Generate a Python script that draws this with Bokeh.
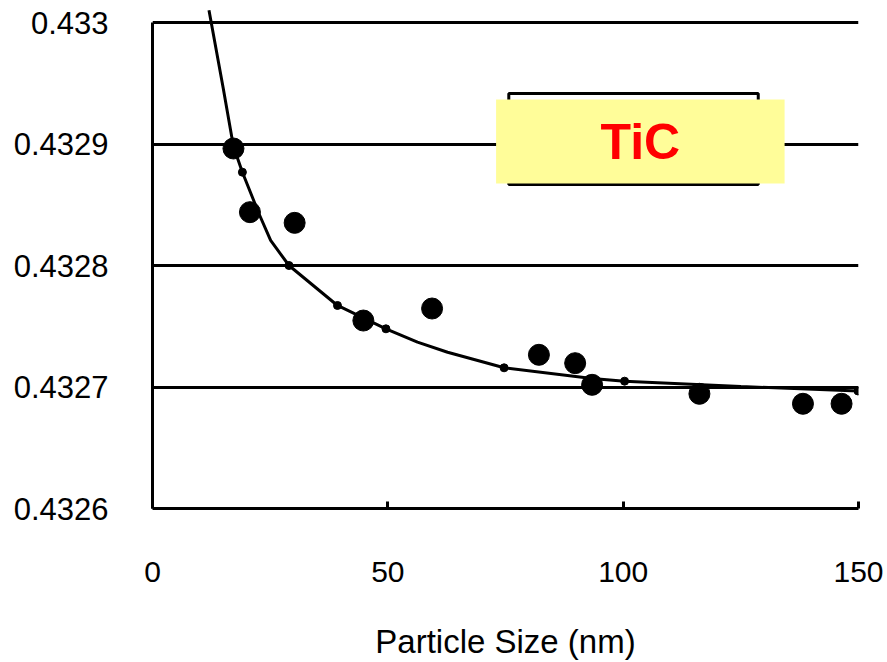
from bokeh.plotting import figure
from bokeh.models import FixedTicker, BoxAnnotation, Label, Range1d
from bokeh.embed import file_html
from bokeh.resources import INLINE

# ---- data ----
size_nm = [17.2, 20.7, 30.2, 44.8, 59.4, 82.1, 89.8, 93.4, 116.2, 138.2, 146.4]
lattice = [0.4328963, 0.4328439, 0.4328351, 0.4327547, 0.4327646, 0.4327265,
           0.4327196, 0.4327018, 0.4326944, 0.4326862, 0.4326862]

fit_x = [12.0, 15.0, 17.2, 19.1, 22.6, 25.1, 29.0, 39.3, 49.6, 56.3, 62.7,
         69.1, 74.7, 93.4, 100.3, 125.0, 149.9]
fit_y = [0.4330100, 0.4329465, 0.4328979, 0.4328768, 0.4328428, 0.4328206,
         0.4328000, 0.4327671, 0.4327479, 0.4327369, 0.4327286, 0.4327218,
         0.4327158, 0.4327070, 0.4327048, 0.4327004, 0.4326967]

node_x = [19.1, 29.0, 39.3, 49.6, 74.7, 100.3, 149.9]
node_y = [0.4328768, 0.4328000, 0.4327671, 0.4327479, 0.4327158, 0.4327048, 0.4326967]

x_ticks = [0, 50, 100, 150]
y_ticks = [0.4326, 0.4327, 0.4328, 0.4329, 0.433]
y_tick_labels = ["0.4326", "0.4327", "0.4328", "0.4329", "0.433"]
x_label = "Particle Size (nm)"
material = "TiC"

FONT = "Liberation Sans"

p = figure(width=887, height=662, output_backend="svg", toolbar_location=None,
           x_range=Range1d(0, 150), y_range=Range1d(0.4326, 0.43301811),
           min_border_left=152, min_border_right=29, min_border_top=0,
           min_border_bottom=154)
p.outline_line_color = None
p.background_fill_color = "white"
p.border_fill_color = "white"

p.xgrid.visible = False
p.ygrid.ticker = FixedTicker(ticks=y_ticks)
p.ygrid.grid_line_color = "black"
p.ygrid.grid_line_width = 3

ya = p.yaxis[0]
ya.ticker = FixedTicker(ticks=y_ticks)
ya.major_label_overrides = dict(zip(y_ticks, y_tick_labels))
ya.bounds = (0.4326, 0.433)
ya.axis_line_width = 3
ya.axis_line_color = "black"
ya.major_tick_in = 0
ya.major_tick_out = 0
ya.minor_tick_in = 0
ya.minor_tick_out = 0
ya.major_label_text_font = FONT
ya.major_label_text_font_size = "31px"
ya.major_label_text_color = "black"
ya.major_label_standoff = 44

xa = p.xaxis[0]
xa.ticker = FixedTicker(ticks=x_ticks)
xa.bounds = (0, 150)
xa.axis_line_width = 3
xa.axis_line_color = "black"
xa.major_tick_in = 7
xa.major_tick_out = 0
xa.major_tick_line_width = 3
xa.major_tick_line_color = "black"
xa.minor_tick_in = 0
xa.minor_tick_out = 0
xa.major_label_text_font = FONT
xa.major_label_text_font_size = "30px"
xa.major_label_text_color = "black"
xa.major_label_standoff = 53
xa.axis_label = x_label
xa.axis_label_text_font = FONT
xa.axis_label_text_font_size = "33px"
xa.axis_label_text_font_style = "normal"
xa.axis_label_text_color = "black"
xa.axis_label_standoff = 38

p.line(fit_x, fit_y, line_color="black", line_width=3)
p.scatter(node_x, node_y, size=8, color="black")
p.scatter(size_nm, lattice, size=21, color="black")

frame_box = BoxAnnotation(left=75.7, right=128.7, bottom=0.4328667, top=0.4329416,
                          fill_alpha=0, line_color="black", line_alpha=1, line_width=3)
p.add_layout(frame_box)
tag_box = BoxAnnotation(left=73.0, right=134.3, bottom=0.4328675, top=0.4329366,
                        fill_color="#FFFD99", fill_alpha=1, line_color=None)
p.add_layout(tag_box)
tag = Label(x=103.65, y=0.43290205, text=material, text_align="center",
            text_baseline="middle", text_color="#FF0000", text_font=FONT,
            text_font_size="50px", text_font_style="bold")
p.add_layout(tag)

open("out.html", "w").write(file_html(p, INLINE))
